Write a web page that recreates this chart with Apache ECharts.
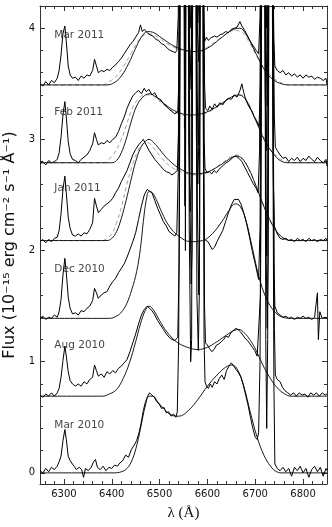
<!DOCTYPE html>
<html>
<head>
<meta charset="utf-8">
<script src="https://cdn.jsdelivr.net/npm/echarts@6/dist/echarts.min.js"></script>
<style>
  html, body { margin: 0; padding: 0; background: #fff; }
  #main { width: 332px; height: 527px; }
</style>
</head>
<body>
<div id="main"></div>
<script>
// axis ticks
var xTicks = [6300, 6400, 6500, 6600, 6700, 6800];
var xMinorTicks = [6260, 6280, 6320, 6340, 6360, 6380, 6420, 6440, 6460, 6480, 6520, 6540, 6560, 6580,
  6620, 6640, 6660, 6680, 6720, 6740, 6760, 6780, 6820, 6840];
var yTicks = [0, 1, 2, 3, 4];
var yMinorTicks = [0.2, 0.4, 0.6, 0.8, 1.2, 1.4, 1.6, 1.8, 2.2, 2.4, 2.6, 2.8, 3.2, 3.4, 3.6, 3.8, 4.2];

// epochs (bottom to top) and where their names sit
var epochs = ['Mar 2010', 'Aug 2010', 'Dec 2010', 'Jan 2011', 'Feb 2011', 'Mar 2011'];
var epochLabelPos = [[6279, 0.43], [6279, 1.15], [6279, 1.83], [6279, 2.56], [6279, 3.24], [6279, 3.94]];

// observed spectra [lambda, flux + offset]
var obsMar10 = [[6250,0.02],[6256,0.00],[6262,0.04],[6268,0.01],[6274,0.05],[6280,0.03],[6286,0.06],[6290,0.10],[6294,0.15],[6298,0.29],[6302,0.39],[6305,0.30],[6309,0.15],[6313,0.11],[6317,0.12],[6321,0.06],[6326,0.03],[6332,0.05],[6337,0.03],[6341,-0.04],[6345,0.04],[6351,0.02],[6357,0.05],[6362,0.10],[6366,0.12],[6370,0.05],[6376,0.03],[6382,0.06],[6388,0.02],[6394,0.05],[6400,0.04],[6406,0.07],[6412,0.06],[6417,0.09],[6423,0.11],[6429,0.16],[6435,0.14],[6441,0.21],[6447,0.25],[6452,0.29],[6457,0.36],[6461,0.44],[6466,0.56],[6470,0.63],[6474,0.68],[6479,0.72],[6484,0.70],[6489,0.68],[6494,0.64],[6499,0.62],[6504,0.58],[6509,0.59],[6514,0.54],[6519,0.55],[6524,0.51],[6529,0.53],[6534,0.50],
  [6537,0.55],[6540,1.2],[6542,3.5],[6544,10],[6549,14],[6551,6],[6553,2.4],[6555,6],[6557,14],[6560,6],[6562,2.2],[6565,1.0],[6567,1.2],[6569,5],[6572,14],[6576,5],[6578,1.6],[6581,1.1],[6583,1.6],[6585,6],[6588,14],[6591,4],[6593,1.2],
  [6595,0.82],[6598,0.78],[6602,0.76],[6606,0.80],[6610,0.77],[6615,0.82],[6620,0.80],[6625,0.85],[6630,0.88],[6635,0.84],[6640,0.92],[6645,0.96],[6650,0.99],[6655,0.96],[6660,0.93],[6665,0.90],[6670,0.86],[6675,0.79],[6680,0.70],[6685,0.61],[6690,0.50],[6695,0.40],[6700,0.32],[6704,0.30],
  [6707,0.36],[6710,1.0],[6712,3],[6714,10],[6717,14],[6720,5],[6722,1.2],[6724,0.40],[6726,1.2],[6728,5],[6731,14],[6734,10],[6737,3],[6739,0.8],
  [6741,0.08],[6746,0.04],[6752,0.02],[6758,0.05],[6764,0.01],[6770,0.04],[6776,-0.03],[6782,0.05],[6788,0.02],[6794,0.06],[6800,0.00],[6806,0.04],[6812,-0.04],[6818,0.03],[6824,0.06],[6830,0.01],[6836,0.05],[6842,-0.03],[6848,0.04],[6850,0.02]];
var obsAug10 = [[6250,0.70],[6256,0.68],[6262,0.71],[6268,0.69],[6274,0.72],[6280,0.69],[6286,0.72],[6290,0.76],[6294,0.86],[6298,1.01],[6302,1.14],[6305,1.05],[6309,0.91],[6313,0.83],[6318,0.80],[6324,0.78],[6330,0.80],[6336,0.78],[6342,0.82],[6348,0.80],[6354,0.84],[6360,0.86],[6364,0.97],[6368,0.92],[6372,0.87],[6378,0.89],[6384,0.86],[6390,0.91],[6396,0.89],[6402,0.92],[6408,0.90],[6414,0.94],[6420,0.96],[6426,0.99],[6432,1.02],[6438,1.09],[6444,1.17],[6450,1.25],[6456,1.34],[6462,1.42],[6468,1.47],[6474,1.50],[6479,1.48],[6484,1.46],[6490,1.42],[6496,1.37],[6502,1.33],[6508,1.29],[6514,1.25],[6520,1.22],[6526,1.20],[6532,1.19],
  [6538,1.22],[6541,1.9],[6543,4],[6545,10],[6550,14],[6552,6],[6554,2.0],[6556,6],[6558,14],[6561,6],[6563,2.6],[6566,1.7],[6568,2.0],[6570,6],[6573,14],[6577,6],[6579,2.4],[6582,1.6],[6584,2.2],[6586,6],[6589,14],[6592,4],[6594,1.5],
  [6596,1.17],[6600,1.15],[6604,1.12],[6609,1.09],[6614,1.11],[6619,1.15],[6624,1.16],[6629,1.18],[6634,1.20],[6639,1.23],[6644,1.22],[6649,1.26],[6654,1.28],[6659,1.30],[6664,1.29],[6669,1.27],[6674,1.24],[6679,1.21],[6684,1.19],[6689,1.16],[6694,1.13],[6699,1.10],[6704,1.05],
  [6708,1.04],[6711,1.6],[6713,3.5],[6715,10],[6718,14],[6721,5],[6723,1.9],[6725,1.3],[6727,1.9],[6729,5],[6732,14],[6735,10],[6738,3],[6740,1.3],
  [6742,0.88],[6746,0.84],[6752,0.82],[6757,0.77],[6762,0.74],[6768,0.72],[6774,0.70],[6780,0.72],[6786,0.69],[6792,0.72],[6798,0.70],[6804,0.71],[6810,0.68],[6816,0.72],[6822,0.70],[6828,0.72],[6834,0.69],[6840,0.72],[6846,0.70],[6850,0.71]];
var obsDec10 = [[6250,1.39],[6256,1.41],[6262,1.38],[6268,1.40],[6274,1.39],[6280,1.42],[6286,1.40],[6290,1.45],[6294,1.56],[6298,1.78],[6302,1.93],[6305,1.80],[6309,1.58],[6313,1.48],[6318,1.43],[6324,1.44],[6330,1.42],[6336,1.46],[6342,1.45],[6348,1.48],[6354,1.50],[6360,1.55],[6364,1.66],[6368,1.62],[6372,1.57],[6378,1.60],[6384,1.62],[6390,1.63],[6396,1.68],[6402,1.72],[6408,1.75],[6414,1.80],[6420,1.84],[6426,1.88],[6432,1.94],[6438,2.01],[6444,2.08],[6450,2.16],[6456,2.28],[6462,2.40],[6468,2.50],[6474,2.55],[6478,2.56],[6484,2.52],[6490,2.45],[6496,2.38],[6502,2.32],[6508,2.26],[6514,2.22],[6520,2.17],[6526,2.15],[6532,2.13],
  [6536,2.16],[6539,2.7],[6541,4.5],[6543,10],[6548,14],[6550,6],[6552,3.1],[6554,6],[6556,14],[6559,6],[6561,3.0],[6564,2.35],[6566,2.6],[6568,6],[6571,14],[6575,6],[6577,3.0],[6580,2.6],[6582,3.0],[6584,6],[6587,14],[6590,5],[6592,2.5],
  [6594,2.10],[6598,2.09],[6601,2.08],[6605,2.05],[6610,2.01],[6615,2.03],[6620,2.08],[6626,2.13],[6632,2.18],[6638,2.26],[6644,2.34],[6650,2.41],[6656,2.46],[6660,2.47],[6665,2.46],[6670,2.42],[6676,2.34],[6682,2.24],[6688,2.12],[6694,1.99],[6700,1.88],[6704,1.80],
  [6707,1.74],[6710,2.2],[6712,3.8],[6714,10],[6717,14],[6720,5],[6722,2.5],[6724,1.95],[6726,2.5],[6728,5],[6731,14],[6734,10],[6737,3.5],[6739,1.9],
  [6741,1.50],[6746,1.44],[6752,1.42],[6758,1.40],[6764,1.41],[6770,1.39],[6776,1.40],[6782,1.38],[6788,1.40],[6794,1.39],[6800,1.41],[6806,1.39],[6812,1.40],[6818,1.38],[6824,1.40],[6828,1.39],[6830,1.62],[6832,1.20],[6835,1.45],[6840,1.39],[6846,1.40],[6850,1.39]];
var obsJan11 = [[6250,2.08],[6256,2.10],[6262,2.07],[6268,2.10],[6274,2.08],[6280,2.11],[6286,2.12],[6290,2.18],[6294,2.33],[6298,2.55],[6302,2.67],[6305,2.52],[6309,2.30],[6313,2.20],[6318,2.14],[6324,2.13],[6330,2.15],[6336,2.13],[6342,2.16],[6348,2.15],[6354,2.19],[6360,2.25],[6364,2.47],[6368,2.40],[6372,2.34],[6378,2.37],[6384,2.40],[6390,2.42],[6396,2.44],[6402,2.47],[6408,2.52],[6414,2.56],[6420,2.62],[6426,2.67],[6432,2.72],[6438,2.79],[6444,2.86],[6450,2.91],[6456,2.95],[6462,2.98],[6466,3.00],[6472,2.95],[6478,2.90],[6484,2.86],[6490,2.82],[6496,2.79],[6502,2.76],[6508,2.73],[6514,2.71],[6520,2.70],[6526,2.68],[6532,2.70],
  [6537,2.72],[6540,3.1],[6542,4.6],[6544,10],[6549,14],[6551,6],[6553,3.4],[6555,6],[6557,14],[6560,6],[6562,3.9],[6565,3.6],[6567,3.9],[6569,6],[6572,14],[6576,6],[6578,3.5],[6581,2.95],[6583,3.3],[6585,6],[6588,14],[6591,5],[6593,3.0],
  [6595,2.74],[6599,2.70],[6604,2.71],[6609,2.69],[6614,2.72],[6619,2.70],[6624,2.73],[6629,2.75],[6634,2.77],[6639,2.79],[6644,2.80],[6649,2.82],[6654,2.84],[6660,2.85],[6666,2.83],[6672,2.80],[6678,2.75],[6684,2.70],[6690,2.65],[6696,2.60],[6702,2.56],
  [6706,2.52],[6709,2.9],[6711,4.2],[6713,10],[6716,14],[6719,5],[6721,3.4],[6723,2.9],[6725,3.4],[6727,5],[6730,14],[6733,10],[6736,4],[6738,2.6],
  [6740,2.22],[6746,2.15],[6752,2.11],[6758,2.10],[6764,2.11],[6770,2.09],[6776,2.10],[6782,2.08],[6788,2.11],[6794,2.09],[6800,2.10],[6806,2.08],[6812,2.11],[6818,2.09],[6824,2.10],[6830,2.08],[6836,2.10],[6842,2.09],[6848,2.11],[6850,2.09]];
var obsFeb11 = [[6250,2.78],[6256,2.80],[6262,2.77],[6268,2.81],[6274,2.79],[6280,2.80],[6286,2.82],[6290,2.88],[6294,3.02],[6298,3.22],[6302,3.34],[6305,3.20],[6309,2.98],[6313,2.87],[6318,2.82],[6324,2.81],[6330,2.79],[6336,2.82],[6342,2.84],[6348,2.86],[6354,2.90],[6360,2.96],[6364,3.06],[6368,3.00],[6372,2.95],[6378,2.97],[6384,2.96],[6390,2.99],[6396,2.97],[6402,3.00],[6408,3.02],[6414,3.07],[6420,3.14],[6426,3.20],[6432,3.28],[6438,3.34],[6444,3.39],[6450,3.42],[6456,3.44],[6462,3.41],[6468,3.46],[6472,3.43],[6478,3.45],[6484,3.40],[6490,3.42],[6496,3.37],[6502,3.36],[6508,3.32],[6514,3.30],[6520,3.27],[6526,3.25],[6532,3.23],
  [6538,3.25],[6541,3.6],[6543,5],[6545,10],[6550,14],[6552,6],[6554,3.7],[6556,6],[6558,14],[6561,6],[6563,3.8],[6566,3.45],[6568,3.8],[6570,6],[6573,14],[6577,6],[6579,4.0],[6582,3.7],[6584,4.0],[6586,6],[6589,14],[6592,5],[6594,3.5],
  [6596,3.28],[6601,3.26],[6605,3.30],[6610,3.27],[6615,3.32],[6620,3.29],[6626,3.33],[6632,3.31],[6638,3.35],[6644,3.37],[6650,3.36],[6656,3.40],[6662,3.38],[6668,3.44],[6672,3.50],[6676,3.42],[6680,3.36],[6686,3.30],[6692,3.26],[6698,3.20],[6704,3.16],
  [6708,3.12],[6711,3.5],[6713,4.6],[6715,10],[6718,14],[6721,5],[6723,3.8],[6725,3.3],[6727,3.8],[6729,5],[6732,14],[6735,10],[6738,4],[6740,3.2],
  [6742,2.93],[6746,2.90],[6752,2.86],[6758,2.83],[6764,2.84],[6770,2.80],[6776,2.83],[6782,2.81],[6788,2.84],[6794,2.80],[6800,2.83],[6806,2.81],[6812,2.85],[6818,2.82],[6824,2.80],[6830,2.84],[6836,2.81],[6842,2.79],[6848,2.82],[6850,2.76]];
var obsMar11 = [[6250,3.50],[6256,3.48],[6262,3.52],[6268,3.49],[6274,3.53],[6280,3.51],[6286,3.55],[6290,3.62],[6294,3.76],[6298,3.95],[6302,4.02],[6305,3.88],[6309,3.66],[6313,3.58],[6318,3.55],[6324,3.56],[6330,3.53],[6336,3.57],[6342,3.55],[6348,3.58],[6354,3.57],[6360,3.62],[6364,3.72],[6368,3.66],[6372,3.60],[6378,3.62],[6384,3.61],[6390,3.63],[6396,3.62],[6402,3.65],[6408,3.67],[6414,3.70],[6420,3.73],[6426,3.77],[6432,3.81],[6438,3.85],[6444,3.88],[6450,3.92],[6456,3.96],[6460,4.03],[6464,3.97],[6468,3.99],[6474,3.96],[6480,3.94],[6486,3.93],[6492,3.90],[6498,3.89],[6504,3.86],[6510,3.85],[6516,3.82],[6522,3.80],[6528,3.79],[6533,3.78],
  [6536,3.80],[6539,4.1],[6541,5],[6543,10],[6548,14],[6550,6],[6552,4.15],[6554,6],[6556,14],[6559,6],[6561,4.3],[6564,4.0],[6566,4.3],[6568,6],[6571,14],[6575,6],[6577,4.3],[6580,4.05],[6582,4.3],[6584,6],[6587,14],[6590,5],[6592,4.1],
  [6594,3.88],[6598,3.92],[6602,3.89],[6606,3.91],[6610,3.90],[6615,3.93],[6620,3.92],[6626,3.94],[6632,3.95],[6638,3.97],[6644,3.96],[6650,3.99],[6656,4.00],[6662,4.01],[6668,4.06],[6672,4.02],[6678,3.98],[6684,3.93],[6690,3.88],[6696,3.84],[6702,3.80],
  [6707,3.77],[6710,4.1],[6712,5],[6714,10],[6717,14],[6720,5],[6722,4.4],[6724,4.0],[6726,4.4],[6728,5],[6731,14],[6734,10],[6737,4.5],[6739,3.9],
  [6741,3.66],[6746,3.62],[6752,3.60],[6758,3.62],[6764,3.58],[6770,3.60],[6776,3.57],[6782,3.59],[6788,3.56],[6794,3.58],[6800,3.55],[6806,3.58],[6812,3.56],[6818,3.57],[6824,3.54],[6830,3.56],[6836,3.55],[6842,3.53],[6848,3.55],[6850,3.49]];

// model fits (solid black)
var fitMar10 = [[6250,0],[6405,0],[6420,0.01],[6432,0.04],[6443,0.12],[6453,0.26],[6462,0.44],[6470,0.60],[6478,0.69],[6486,0.69],[6496,0.64],[6510,0.57],[6525,0.52],[6540,0.51],[6560,0.56],[6580,0.66],[6600,0.78],[6620,0.88],[6638,0.95],[6652,0.97],[6664,0.92],[6676,0.78],[6690,0.54],[6704,0.32],[6718,0.16],[6732,0.06],[6745,0.01],[6758,0],[6850,0]];
var fitAug10 = [[6250,0.69],[6380,0.69],[6395,0.71],[6410,0.75],[6424,0.85],[6437,0.99],[6450,1.18],[6460,1.34],[6470,1.46],[6478,1.50],[6488,1.46],[6500,1.37],[6515,1.27],[6535,1.18],[6558,1.13],[6580,1.11],[6600,1.13],[6620,1.18],[6640,1.24],[6655,1.28],[6666,1.29],[6677,1.26],[6690,1.19],[6702,1.10],[6716,0.97],[6730,0.86],[6745,0.77],[6760,0.715],[6775,0.69],[6850,0.69]];
var fitDec10 = [[6250,1.39],[6395,1.39],[6410,1.41],[6421,1.45],[6431,1.52],[6442,1.65],[6452,1.81],[6460,2.02],[6466,2.26],[6472,2.45],[6478,2.53],[6485,2.52],[6493,2.46],[6505,2.34],[6520,2.22],[6540,2.13],[6565,2.08],[6590,2.09],[6610,2.15],[6630,2.26],[6645,2.36],[6658,2.42],[6668,2.40],[6680,2.28],[6694,2.02],[6708,1.76],[6722,1.58],[6735,1.48],[6748,1.42],[6762,1.395],[6776,1.39],[6850,1.39]];
var fitJan11 = [[6250,2.09],[6390,2.09],[6400,2.11],[6410,2.17],[6420,2.29],[6430,2.45],[6440,2.63],[6450,2.80],[6460,2.92],[6470,2.98],[6478,3.00],[6488,2.97],[6500,2.91],[6520,2.81],[6545,2.73],[6570,2.69],[6595,2.70],[6620,2.75],[6645,2.82],[6660,2.85],[6672,2.83],[6686,2.74],[6700,2.60],[6715,2.43],[6730,2.28],[6745,2.17],[6760,2.11],[6775,2.09],[6850,2.09]];
var fitFeb11 = [[6250,2.79],[6400,2.79],[6410,2.81],[6420,2.88],[6430,3.00],[6440,3.15],[6452,3.30],[6465,3.38],[6478,3.41],[6490,3.39],[6510,3.32],[6535,3.25],[6565,3.22],[6595,3.24],[6625,3.31],[6650,3.38],[6665,3.40],[6678,3.37],[6692,3.26],[6708,3.10],[6722,2.97],[6738,2.87],[6752,2.81],[6768,2.79],[6850,2.79]];
var fitMar11 = [[6250,3.49],[6390,3.49],[6405,3.51],[6420,3.57],[6435,3.68],[6450,3.82],[6462,3.92],[6475,3.97],[6488,3.96],[6505,3.91],[6530,3.84],[6555,3.80],[6575,3.79],[6600,3.82],[6625,3.90],[6650,3.98],[6668,4.00],[6680,3.95],[6695,3.83],[6710,3.70],[6725,3.59],[6740,3.53],[6755,3.50],[6770,3.49],[6850,3.49]];

// alternative fits (grey dashed)
var altJan11 = [[6250,2.09],[6380,2.09],[6390,2.11],[6400,2.15],[6410,2.25],[6420,2.39],[6432,2.60],[6444,2.78],[6455,2.90],[6465,2.96],[6475,2.97],[6488,2.92],[6505,2.83],[6525,2.75],[6550,2.70],[6575,2.68],[6600,2.70],[6625,2.77],[6648,2.84],[6662,2.86],[6675,2.82],[6690,2.70],[6705,2.54],[6720,2.38],[6735,2.24],[6750,2.14],[6765,2.10],[6780,2.09],[6850,2.09]];
var altFeb11 = [[6250,2.79],[6385,2.79],[6396,2.83],[6406,2.88],[6418,2.98],[6430,3.12],[6442,3.27],[6455,3.36],[6468,3.40],[6480,3.40],[6495,3.36],[6515,3.29],[6540,3.23],[6570,3.21],[6600,3.24],[6630,3.32],[6655,3.39],[6668,3.40],[6682,3.35],[6696,3.23],[6712,3.08],[6726,2.95],[6742,2.86],[6758,2.81],[6775,2.79],[6850,2.79]];
var altMar11 = [[6250,3.49],[6380,3.49],[6395,3.52],[6410,3.57],[6425,3.66],[6440,3.77],[6455,3.88],[6468,3.94],[6480,3.95],[6495,3.92],[6520,3.85],[6550,3.80],[6575,3.79],[6600,3.83],[6630,3.92],[6655,3.98],[6670,3.97],[6685,3.89],[6700,3.77],[6715,3.66],[6730,3.58],[6745,3.53],[6760,3.50],[6775,3.49],[6850,3.49]];

var observed = [obsMar10, obsAug10, obsDec10, obsJan11, obsFeb11, obsMar11];
var fits = [fitMar10, fitAug10, fitDec10, fitJan11, fitFeb11, fitMar11];
var alts = [altJan11, altFeb11, altMar11];

var chart = echarts.init(document.getElementById('main'));
var font = 'DejaVu Sans';
var frame = '#333';

function plain(v) { return String(v); }

function xAx(pos, ticks, len, labels) {
  return {
    type: 'value', min: 6250, max: 6850, position: pos,
    axisLine: { show: labels, onZero: false, lineStyle: { color: frame, width: 1 } },
    axisTick: { show: true, inside: true, length: len, customValues: ticks, lineStyle: { color: frame } },
    axisLabel: labels ? { customValues: xTicks, formatter: plain, color: '#111', fontFamily: font, fontSize: 10, margin: 5 } : { show: false },
    splitLine: { show: false }
  };
}
function yAx(pos, ticks, len, labels) {
  return {
    type: 'value', min: -0.1, max: 4.2, position: pos,
    axisLine: { show: labels, onZero: false, lineStyle: { color: frame, width: 1 } },
    axisTick: { show: true, inside: true, length: len, customValues: ticks, lineStyle: { color: frame } },
    axisLabel: labels ? { customValues: yTicks, formatter: plain, color: '#111', fontFamily: font, fontSize: 10, margin: 5 } : { show: false },
    splitLine: { show: false }
  };
}

var xAxes = [xAx('bottom', xTicks, 5, true), xAx('bottom', xMinorTicks, 3, false),
  xAx('top', xTicks, 5, false), xAx('top', xMinorTicks, 3, false)];
xAxes[2].axisLine.show = true;
xAxes[0].name = 'λ (Å)';
xAxes[0].nameLocation = 'middle';
xAxes[0].nameGap = 22;
xAxes[0].nameTextStyle = { fontFamily: 'Liberation Serif', fontSize: 15, color: '#111' };

var yAxes = [yAx('left', yTicks, 5, true), yAx('left', yMinorTicks, 3, false),
  yAx('right', yTicks, 5, false), yAx('right', yMinorTicks, 3, false)];
yAxes[2].axisLine.show = true;
yAxes[0].name = 'Flux (10⁻¹⁵ erg cm⁻² s⁻¹ Å⁻¹)';
yAxes[0].nameLocation = 'middle';
yAxes[0].nameGap = 20;
yAxes[0].nameTextStyle = { fontFamily: font, fontSize: 16, color: '#111' };

var series = [];
observed.forEach(function (d) {
  series.push({ type: 'line', data: d, showSymbol: false, symbol: 'none', clip: true,
    lineStyle: { color: '#000', width: 1 }, z: 3 });
});
fits.forEach(function (d) {
  series.push({ type: 'line', data: d, showSymbol: false, symbol: 'none', smooth: 0.4, clip: true,
    lineStyle: { color: '#000', width: 0.9 }, z: 2 });
});
alts.forEach(function (d) {
  series.push({ type: 'line', data: d, showSymbol: false, symbol: 'none', smooth: 0.4, clip: true,
    lineStyle: { color: '#888', width: 0.8, type: [4, 3] }, z: 1 });
});
// epoch names
series.push({
  type: 'scatter', symbolSize: 1, itemStyle: { color: 'rgba(0,0,0,0)' }, z: 5,
  data: epochs.map(function (n, i) { return { name: n, value: epochLabelPos[i] }; }),
  label: { show: true, position: 'right', distance: 0, formatter: '{b}',
    color: '#111', fontFamily: font, fontSize: 10.5 }
});

chart.setOption({
  animation: false,
  backgroundColor: '#fff',
  grid: { left: 40, right: 5, top: 6, bottom: 43, outerBoundsMode: 'none' },
  xAxis: xAxes,
  yAxis: yAxes,
  series: series
});
</script>
</body>
</html>
